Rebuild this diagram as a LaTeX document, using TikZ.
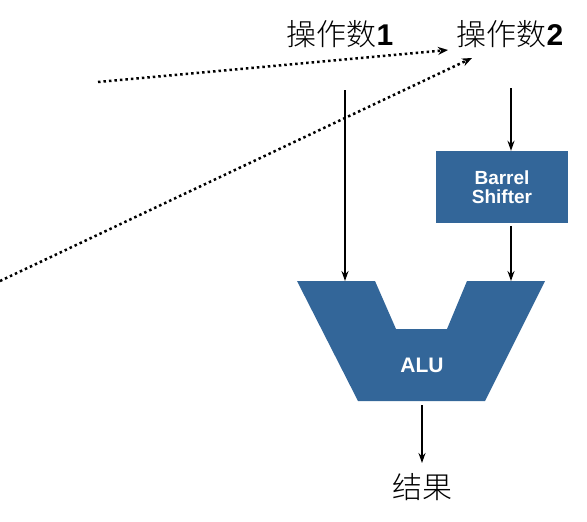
\documentclass[tikz,border=0pt]{standalone}
\usepackage{fontspec}
\setmainfont{Liberation Sans}
\newfontfamily\cjk{Noto Sans CJK SC}[UprightFont=* Light]
\usetikzlibrary{arrows.meta}
\definecolor{alublue}{RGB}{51,102,153}
\tikzset{
  arr/.style={line width=2pt,-{Stealth[length=10pt,width=7pt]}},
  dotarr/.style={line width=2.5pt,dash pattern=on 2.5pt off 3pt,-{Stealth[length=10pt,width=8pt]}},
  lbl/.style={inner sep=0pt,font=\fontsize{30}{32}\selectfont},
  wlbl/.style={text=white,font=\bfseries\fontsize{19}{22}\selectfont,align=center},
}
\begin{document}
\begin{tikzpicture}[x=1pt,y=-1pt]
\useasboundingbox (0,0) rectangle (587,522);
\node[lbl] (op1) at (340,34) {{\cjk 操作数}\textbf{1}};
\node[lbl] (op2) at (510,34) {{\cjk 操作数}\textbf{2}};
\fill[alublue] (297,281) -- (375,281) -- (396,329) -- (447,329) -- (467,281) -- (545,281) -- (485,401) -- (358,401) -- cycle;
\node[wlbl,font=\bfseries\fontsize{21}{23}\selectfont] (alu) at (422,365) {ALU};
\node[fill=alublue,minimum width=132pt,minimum height=72pt,inner sep=0pt,wlbl] (bs) at (502,187) {Barrel\\[-3pt]Shifter};
\coordinate (a1s) at (345,90);
\coordinate (a1e) at (345,281);
\coordinate (a2s) at (511,88);
\coordinate (a3e) at (511,281);
\coordinate (aos) at (422,405);
\coordinate (aoe) at (422,463);
\node[lbl] (res) at (422,487) {\cjk 结果};
\draw[arr] (a1s) -- (a1e);
\draw[arr] (a2s) -- (bs.north -| a2s);
\draw[arr] (bs.south -| a2s) ++(0,3) -- (a3e);
\draw[arr] (aos) -- (aoe);
\coordinate (d1s) at (98,82);
\coordinate (d1e) at (448,50);
\coordinate (d2s) at (0,281);
\coordinate (d2e) at (472,58);
\draw[dotarr] (d1s) -- (d1e);
\draw[dotarr] (d2s) -- (d2e);
\end{tikzpicture}
\end{document}
